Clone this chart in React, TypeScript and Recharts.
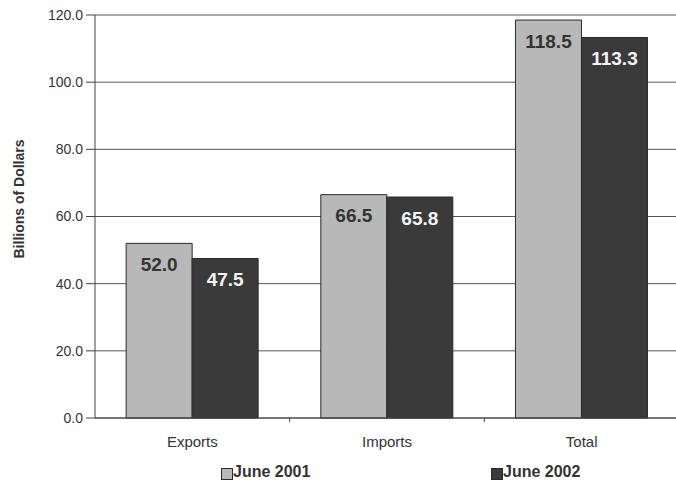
import React from "react";
import { BarChart, Bar, XAxis, YAxis, CartesianGrid, Legend, LabelList } from "recharts";

const categories = ["Exports", "Imports", "Total"];
const june2001 = [52.0, 66.5, 118.5];
const june2002 = [47.5, 65.8, 113.3];
const yTicks = [0, 20, 40, 60, 80, 100, 120];
const seriesNames = ["June 2001", "June 2002"];

const data = categories.map((c, i) => ({ name: c, a: june2001[i], b: june2002[i] }));

const W = 676;
const H = 484;
const LEFT = 95;
const RIGHT_M = -3;
const BAND = (W - LEFT + -RIGHT_M) / categories.length;

const FONT = "'Liberation Sans', Arial, Helvetica, sans-serif";
const TEXT = "#333";
const LIGHT = "#b8b8b8";
const DARK = "#3a3a3a";
const EDGE = "#2a2a2a";

const XTick = (props: any) => {
  const { x, y, payload, index } = props;
  return (
    <g>
      <text x={x} y={y + 29} textAnchor="middle" fontFamily={FONT} fontSize={15} fill={TEXT}>
        {payload.value}
      </text>
      {index < categories.length - 1 && (
        <line x1={x + BAND / 2} x2={x + BAND / 2} y1={y} y2={y + 4} stroke="#444" strokeWidth={1} />
      )}
    </g>
  );
};

const LegendContent = () => (
  <div style={{ position: "relative", width: W, height: 30, fontFamily: FONT }}>
    {seriesNames.map((n, i) => {
      const left = i === 0 ? 221 : 491;
      return (
        <React.Fragment key={n}>
          <div
            style={{
              position: "absolute",
              left,
              top: 14,
              width: 10,
              height: 10,
              background: i === 0 ? LIGHT : DARK,
              border: `1px solid ${EDGE}`,
            }}
          />
          <div
            style={{
              position: "absolute",
              left: left + 12,
              top: 10,
              fontSize: 16,
              lineHeight: "16px",
              fontWeight: "bold",
              color: TEXT,
              whiteSpace: "nowrap",
            }}
          >
            {n}
          </div>
        </React.Fragment>
      );
    })}
  </div>
);

export default function App() {
  return (
    <div style={{ position: "absolute", left: 0, top: 0, width: W, height: H, overflow: "hidden", background: "#fff" }}>
      <BarChart
        width={W}
        height={H}
        data={data}
        margin={{ top: 15, right: RIGHT_M, left: 0, bottom: 0 }}
        barCategoryGap="16%"
        barGap={0}
      >
        <CartesianGrid vertical={false} stroke="#555" strokeWidth={1} />
        <XAxis
          dataKey="name"
          height={36}
          tick={<XTick />}
          tickLine={false}
          tickSize={0}
          tickMargin={0}
          axisLine={{ stroke: "#444" }}
          interval={0}
        />
        <YAxis
          width={LEFT}
          domain={[0, 120]}
          ticks={yTicks}
          tickFormatter={(v: number) => v.toFixed(1)}
          tickSize={9}
          tickMargin={3}
          tick={{ fontFamily: FONT, fontSize: 14, fill: TEXT }}
          tickLine={{ stroke: "#444" }}
          axisLine={{ stroke: "#444" }}
          label={{
            content: () => (
              <text
                x={18.5}
                y={199}
                transform="rotate(-90 18.5 199)"
                textAnchor="middle"
                dominantBaseline="central"
                fontFamily={FONT}
                fontSize={14}
                fontWeight="bold"
                fill={TEXT}
              >
                Billions of Dollars
              </text>
            ),
          }}
        />
        <Legend verticalAlign="bottom" content={<LegendContent />} wrapperStyle={{ left: 0, bottom: 0, width: W, height: 30 }} />
        <Bar dataKey="a" name={seriesNames[0]} fill={LIGHT} stroke={EDGE} strokeWidth={1} isAnimationActive={false}>
          <LabelList
            dataKey="a"
            position="insideTop"
            offset={14}
            formatter={(v: number) => v.toFixed(1)}
            style={{ fontFamily: FONT, fontSize: 19, fontWeight: "bold", fill: "#333" }}
          />
        </Bar>
        <Bar dataKey="b" name={seriesNames[1]} fill={DARK} stroke={EDGE} strokeWidth={1} isAnimationActive={false}>
          <LabelList
            dataKey="b"
            position="insideTop"
            offset={14}
            formatter={(v: number) => v.toFixed(1)}
            style={{ fontFamily: FONT, fontSize: 19, fontWeight: "bold", fill: "#f4f4f4" }}
          />
        </Bar>
      </BarChart>
    </div>
  );
}
